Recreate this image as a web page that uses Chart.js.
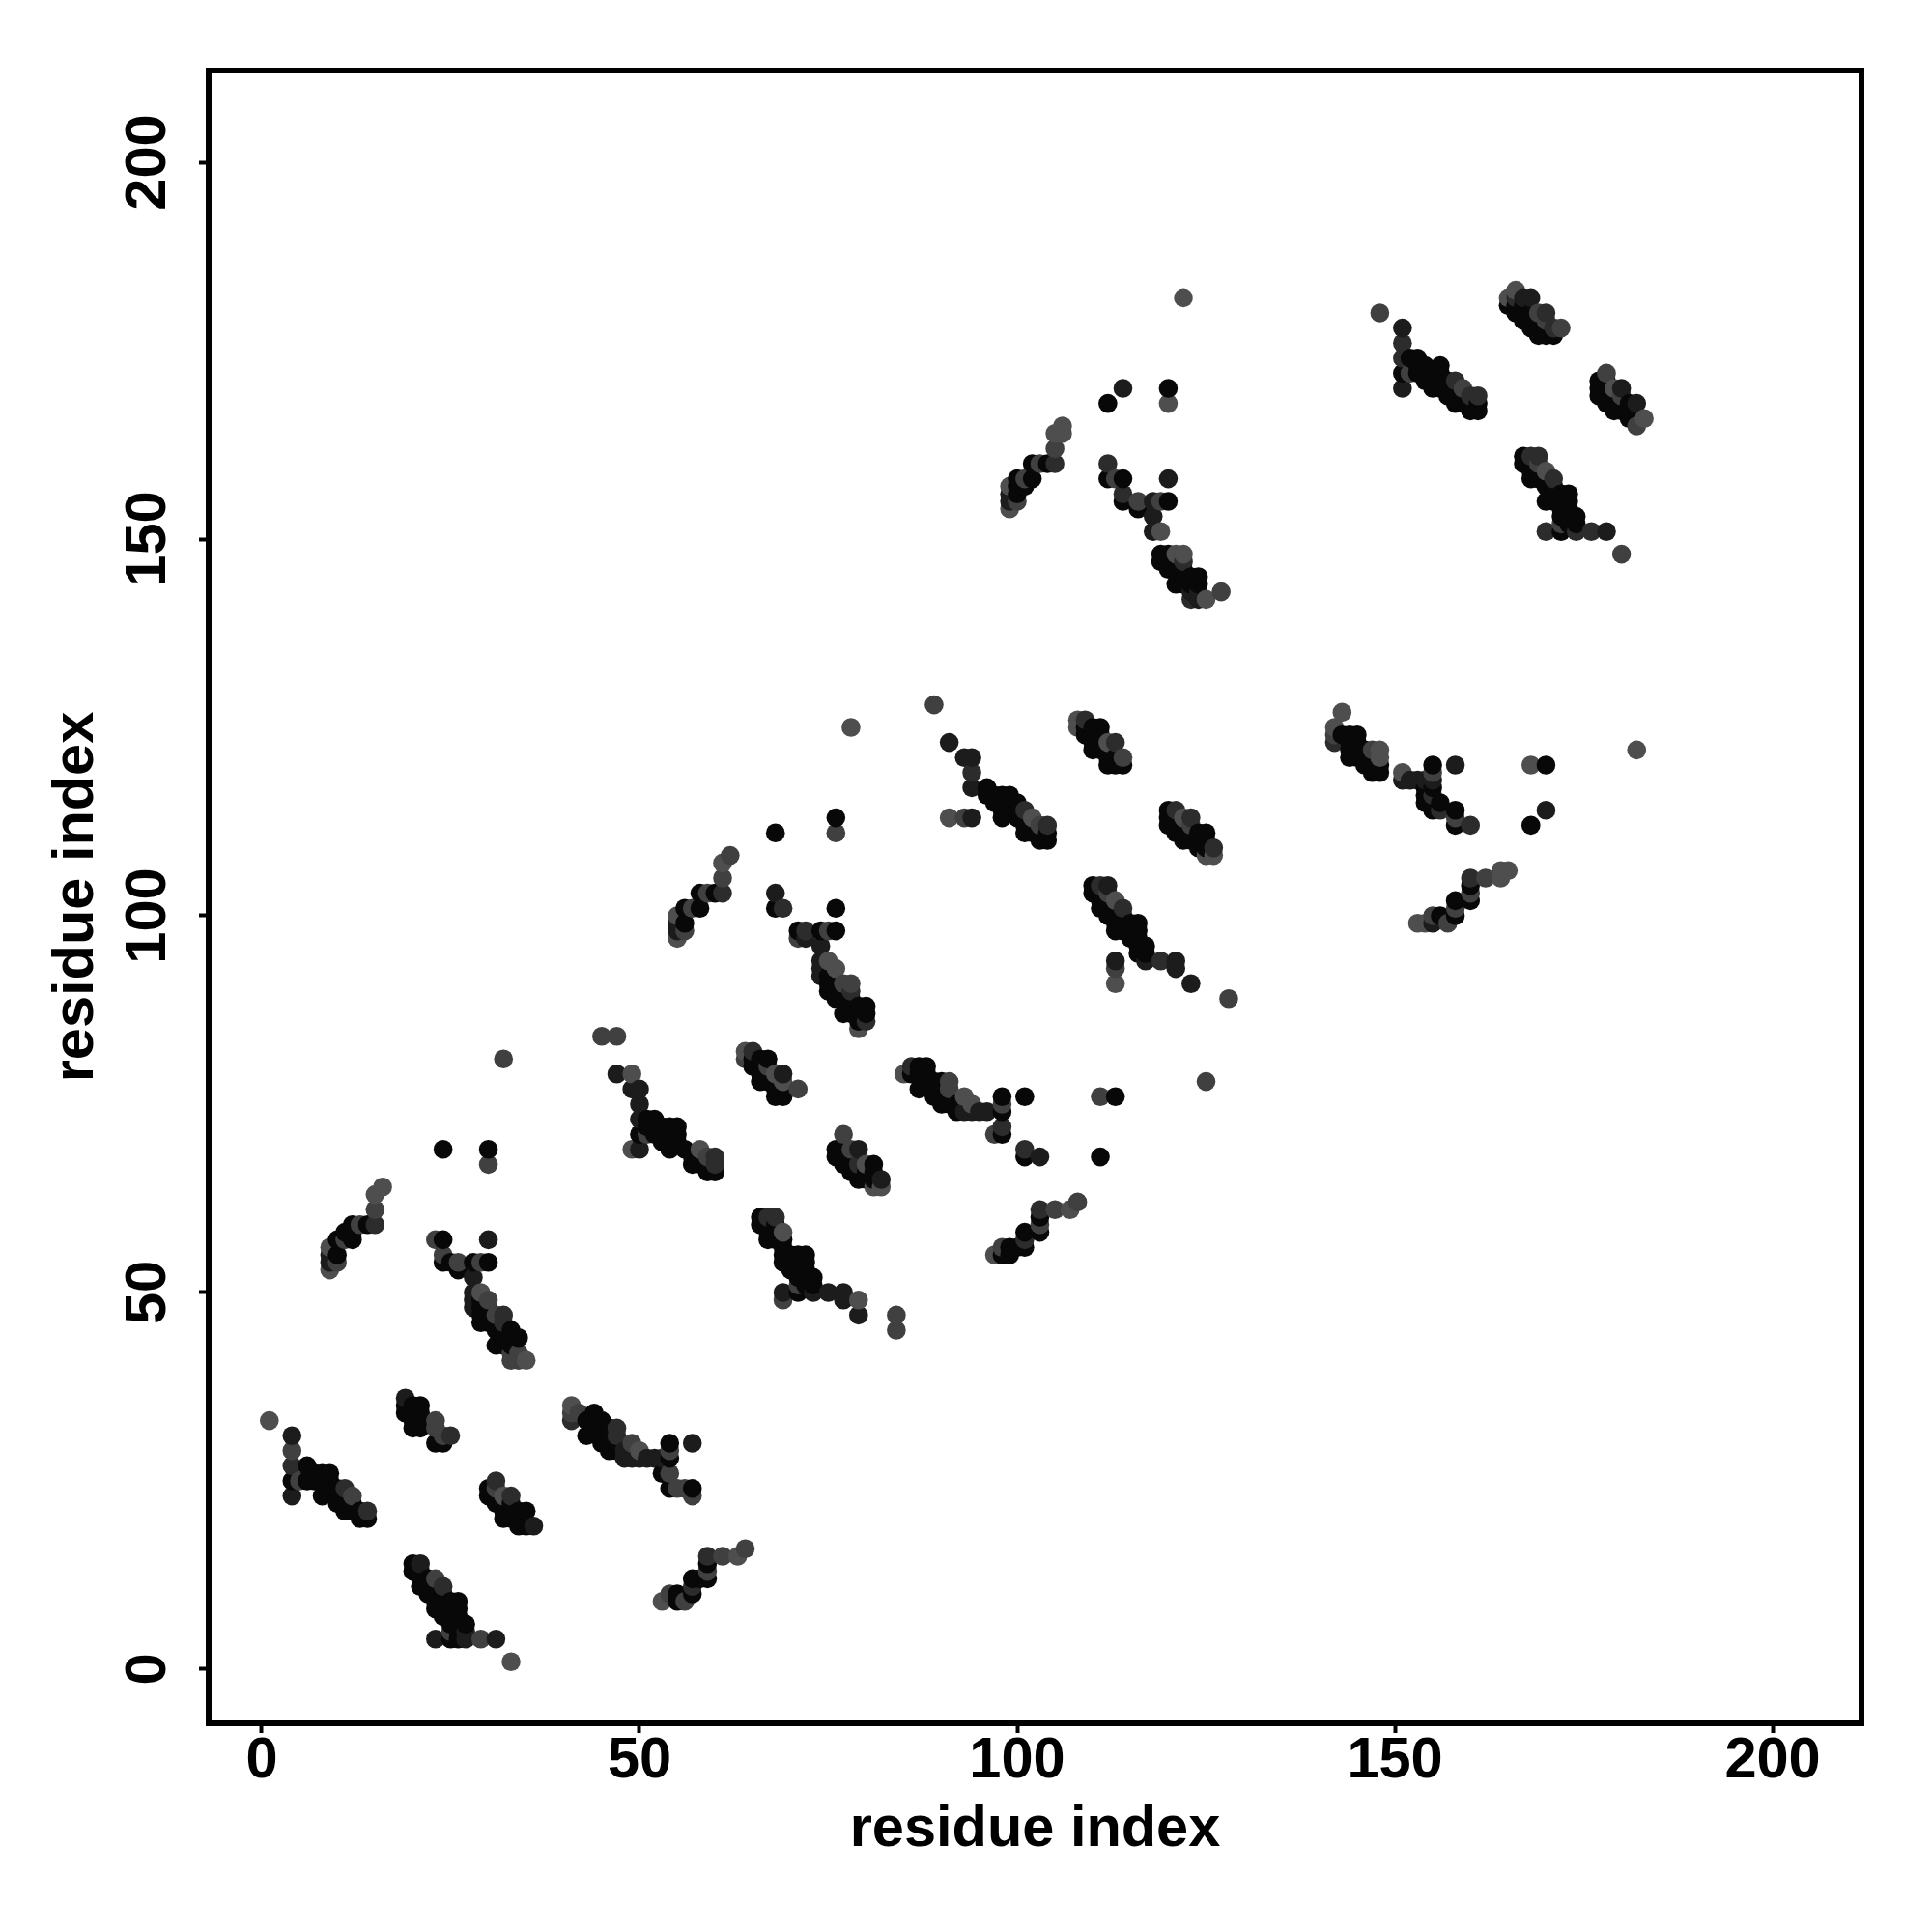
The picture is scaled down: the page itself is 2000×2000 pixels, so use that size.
<!DOCTYPE html>
<html>
<head>
<meta charset="utf-8">
<style>html,body{margin:0;padding:0;background:#fff}canvas{display:block}</style>
<script src="https://cdn.jsdelivr.net/npm/chart.js@4"></script>
</head>
<body>
<canvas id="c" width="2000" height="2000"></canvas>
<script>
const tickValues = [0, 50, 100, 150, 200];
const axisTitle = 'residue index';

const pointsBlack = [[4,25],[6,27],[6,25],[7,26],[7,25],[8,26],[9,26],[8,25],[9,25],[8,23],[9,24],[10,24],[10,23],[11,23],[11,22],[10,22],[12,22],[11,21],[12,21],[13,21],[13,20],[14,20],
[19,35],[19,34],[20,35],[20,34],[20,33],[21,33],[21,34],[20,32],[21,32],[21,35],[23,30],[24,30],
[43,31],[43,33],[44,34],[44,33],[45,33],[45,32],[44,32],[46,32],[46,31],[46,30],[47,30],[45,30],[46,29],[45,31],[47,29],[54,30],[54,28],[53,26],[54,24],[57,24],
[30,24],[30,23],[31,23],[31,22],[32,22],[33,22],[34,21],[32,21],[32,20],[33,20],[33,21],[34,20],[34,19],[35,21],[35,19],
[20,14],[20,13],[21,13],[21,12],[21,11],[22,12],[22,11],[22,10],[23,10],[23,9],[23,8],[24,8],[24,9],[24,10],[24,7],[25,9],[26,9],[26,8],[26,7],[26,6],[26,5],[26,4],[25,7],[25,6],[27,6],[25,4],
[55,10],[55,9],[57,10],[57,12],[58,12],[59,12],[59,14],
[14,59],[12,59],[12,58],[11,58],[12,57],[10,57],[10,55],[24,69],[30,69],
[24,57],[24,54],[25,54],[26,53],[30,54],[28,54],[29,49],[29,48],[30,48],[30,47],[29,46],[29,47],[30,46],[31,46],[31,45],[32,45],[33,45],[32,44],[33,44],[34,44],[33,43],[32,43],[31,43],
[52,73],[51,73],[51,72],[52,72],[52,71],[50,71],[53,72],[55,72],[53,71],[54,72],[54,71],[55,71],[53,70],[55,70],[54,69],[56,69],[57,68],[58,68],[57,67],[58,67],[59,66],[60,66],
[65,81],[65,80],[66,81],[66,80],[66,79],[67,79],[67,81],[66,78],[67,78],[68,78],[68,77],[69,77],[68,76],[69,76],
[66,60],[66,59],[67,59],[68,59],[67,58],[68,58],[67,57],[68,57],[69,57],[69,56],[69,55],[70,55],[70,54],[70,53],[71,53],[72,54],[69,54],[71,55],[72,55],[71,54],[71,52],[72,52],[72,51],[73,51],[73,52],[72,53],[71,50],
[76,69],[77,69],[77,68],[78,68],[78,67],[76,68],[77,67],[78,66],[79,66],[79,65],[80,66],[81,66],[81,65],[81,67],[80,65],
[86,79],[87,80],[88,79],[88,80],[87,79],[87,77],[88,78],[89,78],[89,76],[90,77],[90,76],[91,75],[91,76],[92,75],[90,75],[90,78],[89,77],[92,74],
[98,76],[101,76],[98,74],[98,71],[101,68],[111,68],[113,76],
[103,60],[103,58],[101,58],[101,56],[99,56],[98,55],[99,55],[100,56],
[96,117],[96,116],[97,116],[97,115],[98,115],[98,116],[99,115],[100,115],[100,114],[99,116],[98,114],[99,114],[98,113],[100,113],[101,113],[101,112],[102,111],[102,112],[103,111],[101,111],[103,110],[104,111],[104,110],
[76,113],[68,111],[60,103],[58,103],[58,101],[56,101],[56,99],
[68,101],[76,101],[71,98],[74,98],[76,98],[75,92],[76,91],[76,89],[77,90],[78,89],[78,87],[79,87],[80,87],[75,91],[75,90],[76,90],[77,89],[78,88],[79,88],[80,88],[77,87],[79,86],
[109,125],[110,125],[111,125],[109,124],[110,124],[111,124],[110,123],[111,123],[111,122],[112,121],[110,122],[112,122],[113,121],[112,120],[113,120],[114,120],
[120,114],[120,113],[120,112],[121,113],[121,112],[121,111],[122,112],[122,111],[123,111],[123,110],[124,110],[124,111],[125,109],[122,110],[124,109],[125,111],[125,110],
[110,104],[110,103],[111,103],[111,102],[112,101],[112,100],[113,100],[113,101],[113,99],[114,99],[114,100],[115,99],[115,98],[115,97],[116,98],[117,95],[116,95],[111,101],[112,102],[116,99],[113,98],[114,98],[116,97],[117,96],[116,96],
[143,124],[144,124],[144,122],[145,121],[146,122],[146,121],[147,121],[147,120],[144,121],[145,124],[145,123],[144,123],[145,122],[147,119],[148,119],[146,120],[148,120],
[155,120],[154,117],[155,117],[155,115],[156,115],[154,116],[154,115],[155,114],[158,114],[158,112],[170,120],[168,112],
[160,104],[160,102],[158,102],[158,100],[156,100],
[112,168],[120,170],[104,160],[102,160],[102,158],[100,158],[100,157],[101,157],[100,156],
[112,158],[114,158],[114,155],[116,154],[120,155],[119,148],[120,148],[119,147],[120,147],[121,147],[120,146],[121,146],[122,146],[122,145],[122,144],[123,144],[124,144],[123,145],[124,145],[121,144],
[151,172],[152,174],[153,174],[153,173],[153,172],[154,173],[154,172],[154,171],[155,171],[156,171],[156,170],[157,170],[157,171],[158,170],[158,169],[159,169],[160,168],[155,170],[156,173],[156,172],[155,172],[157,169],[158,168],[159,168],[160,167],[161,167],[161,168],
[165,181],[166,181],[166,180],[167,181],[167,180],[168,179],[168,178],[169,179],[169,178],[170,178],[167,179],[168,180],[169,177],[170,177],[171,177],
[177,171],[177,170],[177,169],[178,171],[178,170],[178,169],[178,168],[179,169],[179,168],[180,167],[181,167],[181,168],[179,167],[181,166],[180,168],
[167,161],[167,160],[168,160],[168,159],[169,159],[169,158],[170,158],[170,157],[171,157],[171,156],[171,155],[172,154],[173,155],[173,154],[173,153],[173,152],[168,158],[172,156],[173,156],[170,155],[172,155],[174,153],[174,152],[172,153],[172,151]];

const pointsDark = [[4,31],[4,23],[19,36],[48,29],[48,28],[49,28],[50,28],[51,28],[52,28],[53,28],[57,30],[36,19],
[21,14],[27,5],[27,4],[31,4],[23,4],[9,55],[9,54],[30,57],[28,52],[28,50],[28,49],[28,48],
[47,79],[49,77],[50,77],[50,75],[50,73],[50,69],[69,79],[69,50],[73,50],[75,50],[77,50],[77,49],[79,47],
[79,69],[82,65],[93,74],[94,74],[95,74],[96,74],[103,68],[91,123],[93,121],[94,121],[94,117],[94,113],
[55,99],[55,98],[68,103],[72,97],[74,96],[74,94],[74,93],[74,92],
[112,104],[117,94],[121,94],[121,93],[123,91],[113,94],
[151,118],[152,118],[153,118],[154,118],[158,120],[155,118],[170,114],[155,99],
[114,170],[99,156],[99,155],[120,158],[118,155],[118,153],[118,151],[123,143],[124,143],[124,142],
[151,178],[151,170],[167,182],[168,182],[180,170],[182,168],[178,151]];

const pointsMid = [[4,27],[11,24],[14,21],[25,31],[41,33],[47,32],[47,31],[31,25],[33,23],[24,11],[57,11],[59,15],[15,59],
[32,47],[32,46],[60,68],[60,67],[65,82],[67,60],[68,60],[79,67],[86,80],[98,72],[101,69],[103,61],[101,57],
[94,119],[101,114],[104,112],[61,103],[69,101],[72,98],[78,90],[80,86],[109,126],[113,123],[121,114],[123,113],[126,109],
[111,104],[114,101],[119,94],[142,123],[155,116],[156,114],[160,112],[160,105],[105,160],[112,160],[114,156],[122,147],[123,142],
[151,176],[151,174],[158,171],[160,169],[161,169],[166,182],[170,180],[171,178],[168,161],[169,161],[171,158],[170,151],[174,151],[176,151]];

const pointsGray = [[5,25],[4,29],[12,23],[23,33],[23,32],[24,31],[41,34],[42,34],[49,30],[54,29],[54,26],[55,24],[56,24],[57,23],
[31,24],[23,12],[25,5],[29,4],[54,10],[56,9],[59,13],[61,15],[64,16],[15,61],[13,59],[11,57],[10,54],[30,67],[32,81],[45,84],[47,84],
[23,57],[24,55],[26,54],[29,54],[30,49],[31,47],[33,42],[34,42],[33,41],[34,41],[51,71],[59,68],[64,81],[67,80],[71,77],
[69,49],[71,51],[84,47],[84,45],[77,71],[78,69],[91,78],[91,77],[98,75],[97,71],[111,76],[125,78],[128,89],
[108,62],[105,61],[103,59],[98,56],[89,128],[103,112],[93,113],[76,111],[62,108],[61,105],[59,103],[57,101],[56,98],
[71,97],[75,98],[77,91],[78,91],[114,121],[123,112],[112,103],[113,93],[142,124],[147,122],[155,119],[158,113],
[162,105],[160,103],[158,101],[155,100],[157,99],[105,162],[103,160],[101,158],[100,155],[113,158],[116,155],[119,155],[127,143],
[148,180],[152,172],[159,170],[169,180],[170,179],[172,178],[178,172],[180,169],[182,165],[169,160],[172,152],[180,148]];

const pointsLight = [[1,33],[41,35],[50,29],[32,23],[33,1],[53,9],[63,15],[16,64],[15,63],[9,56],[9,53],[29,50],[35,41],
[49,79],[49,69],[58,69],[64,82],[69,78],[68,79],[69,58],[79,49],[80,67],[81,64],[82,64],[85,79],[93,76],[94,75],
[107,61],[97,55],[78,125],[102,113],[91,113],[61,107],[55,100],[55,97],[75,94],[76,93],[79,85],
[108,126],[108,125],[112,123],[122,113],[125,108],[126,108],[113,102],[113,91],[143,127],[142,125],[148,122],[148,121],
[151,119],[168,120],[182,122],[165,106],[164,106],[164,105],[154,99],[153,99],[122,182],[120,168],
[106,165],[106,164],[105,164],[99,157],[99,154],[119,151],[121,148],[122,148],[125,142],
[165,182],[166,183],[179,170],[183,166],[170,159]];

const shadeGroups = [
  [pointsBlack, '#080808'],
  [pointsDark, '#1c1c1c'],
  [pointsMid, '#2c2c2c'],
  [pointsGray, '#404040'],
  [pointsLight, '#4e4e4e']
];

const allPoints = [];
shadeGroups.forEach(([pts, color]) => pts.forEach(([x, y]) => allPoints.push({x, y, color})));
allPoints.sort((a, b) => a.x - b.x || a.y - b.y);

const framePlugin = {
  id: 'frame',
  beforeDraw(chart) {
    chart.scales.y.getLabelItems().forEach(item => { item.options.textAlign = 'center'; });
  },
  afterDraw(chart) {
    const {left, right, top, bottom} = chart.chartArea;
    const ctx = chart.ctx;
    ctx.save();
    ctx.strokeStyle = '#000';
    ctx.lineWidth = 6;
    ctx.lineJoin = 'miter';
    ctx.strokeRect(left, top, right - left, bottom - top);
    ctx.restore();
  }
};

const font = {family: '"Liberation Sans", Arial, sans-serif', weight: 'bold', size: 59.5};
const setTicks = scale => { scale.ticks = tickValues.map(value => ({value})); };

new Chart(document.getElementById('c'), {
  type: 'scatter',
  data: {datasets: [{
    data: allPoints.map(p => ({x: p.x, y: p.y})),
    pointBackgroundColor: allPoints.map(p => p.color),
    pointBorderWidth: 0,
    pointRadius: 9.8,
    showLine: false
  }]},
  options: {
    responsive: false,
    animation: false,
    plugins: {legend: {display: false}, tooltip: {enabled: false}},
    layout: {padding: {left: 0, top: 73, right: 73, bottom: 0}},
    scales: {
      x: {
        type: 'linear', min: -7.03, max: 211.76,
        afterBuildTicks: setTicks,
        afterFit(s) { s.height = 216; s.paddingLeft = 0; s.paddingRight = 0; },
        border: {display: false},
        grid: {drawOnChartArea: false, tickLength: 10, tickWidth: 4, tickColor: '#000'},
        ticks: {color: '#000', font, padding: -6, maxRotation: 0, minRotation: 0, autoSkip: false},
        title: {display: true, text: axisTitle, color: '#000', font, padding: {top: 0, bottom: 70}}
      },
      y: {
        type: 'linear', min: -7.18, max: 212.18,
        afterBuildTicks: setTicks,
        afterFit(s) { s.width = 216; s.paddingTop = 0; s.paddingBottom = 0; },
        border: {display: false},
        grid: {drawOnChartArea: false, tickLength: 10, tickWidth: 4, tickColor: '#000'},
        ticks: {color: '#000', font, padding: 51, minRotation: 90, maxRotation: 90, autoSkip: false},
        title: {display: true, text: axisTitle, color: '#000', font, padding: {top: 44, bottom: 0}}
      }
    }
  },
  plugins: [framePlugin]
});
</script>
</body>
</html>
